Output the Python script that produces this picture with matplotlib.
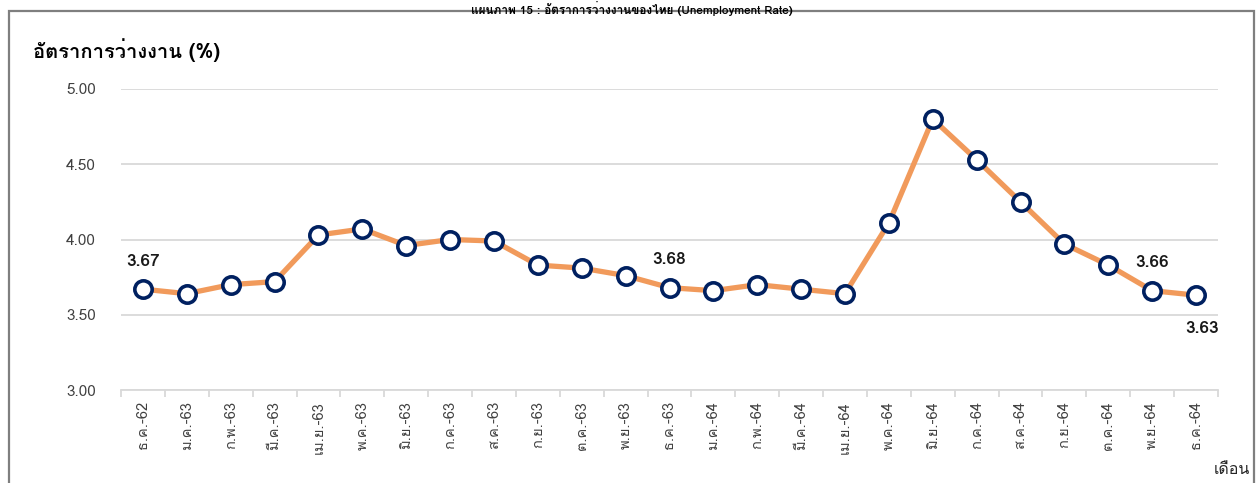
import matplotlib
matplotlib.use("Agg")
import matplotlib.pyplot as plt
from matplotlib import font_manager
from matplotlib.ft2font import FT2Font
from matplotlib.patches import Rectangle

months = ["ธ.ค.-62", "ม.ค.-63", "ก.พ.-63", "มี.ค.-63", "เม.ย.-63", "พ.ค.-63",
          "มิ.ย.-63", "ก.ค.-63", "ส.ค.-63", "ก.ย.-63", "ต.ค.-63", "พ.ย.-63",
          "ธ.ค.-63", "ม.ค.-64", "ก.พ.-64", "มี.ค.-64", "เม.ย.-64", "พ.ค.-64",
          "มิ.ย.-64", "ก.ค.-64", "ส.ค.-64", "ก.ย.-64", "ต.ค.-64", "พ.ย.-64",
          "ธ.ค.-64"]
rate = [3.67, 3.64, 3.70, 3.72, 4.03, 4.07, 3.96, 4.00, 3.99, 3.83, 3.81, 3.76,
        3.68, 3.66, 3.70, 3.67, 3.64, 4.11, 4.80, 4.53, 4.25, 3.97, 3.83, 3.66,
        3.63]
labelled = [0, 12, 23, 24]
yticks = [3.00, 3.50, 4.00, 4.50, 5.00]


# pick any installed font that can draw Thai
def thai_font():
    for f in font_manager.fontManager.ttflist:
        try:
            if 0x0E2D in FT2Font(f.fname).get_charmap():
                return f.name
        except Exception:
            pass
    return "DejaVu Sans"


THAI = thai_font()
plt.rcParams["font.family"] = [THAI, "DejaVu Sans"]

fig = plt.figure(figsize=(12.57, 4.83), dpi=100)
ax = fig.add_axes([121 / 1257, 93 / 483, 1097 / 1257, 301 / 483])

x = list(range(len(months)))
ax.plot(x, rate, color="#F19A5B", lw=3.8, zorder=2,
        marker="o", ms=12.5, mfc="white", mec="#002060", mew=2.6)

for i in labelled:
    off = (4, -24) if i == 24 else (0, 20)
    ax.annotate(f"{rate[i]:.2f}", (x[i], rate[i]), xytext=off,
                textcoords="offset points", ha="center", va="center",
                fontsize=12.5, fontweight="bold", color="#1a1a1a")

ax.set_xlim(-0.5, len(months) - 0.5)
ax.set_ylim(3, 5)
ax.set_yticks(yticks)
ax.set_yticklabels([f"{v:.2f}" for v in yticks])
ax.grid(axis="y", color="#d9d9d9", lw=1.3)
ax.set_axisbelow(True)
for s in ["top", "right", "left"]:
    ax.spines[s].set_visible(False)
ax.spines["bottom"].set_color("#d9d9d9")
ax.spines["bottom"].set_linewidth(1.3)

ax.set_xticks(x)
ax.set_xticklabels(months, rotation=90, fontsize=10.5, color="#404040")
ax.set_xticks([i - 0.5 for i in range(len(months) + 1)], minor=True)
ax.tick_params(axis="x", which="major", length=0, pad=8)
ax.tick_params(axis="x", which="minor", length=5, color="#d9d9d9", width=1.3)
ax.tick_params(axis="y", length=0, pad=18, labelsize=11, labelcolor="#404040")

fig.text(33 / 1257, 1 - 50 / 483, "อัตราการว่างงาน (%)", fontsize=14.5,
         fontweight="bold", ha="left", va="center")
fig.text(1250 / 1257, 1 - 470 / 483, "เดือน", fontsize=11.5, ha="right",
         va="center", color="#262626")
fig.text(632 / 1257, 1 - 0.5 / 483,
         "แผนภาพ 15 : อัตราการว่างงานของไทย (Unemployment Rate)",
         fontsize=8.5, fontweight="bold", ha="center", va="top")

fig.patches.append(Rectangle((9 / 1257, -0.1), 1245 / 1257, 1.1 - 11 / 483,
                             transform=fig.transFigure, fill=False,
                             ec="#7f7f7f", lw=1.6))

fig.savefig("out.png", dpi=100)
